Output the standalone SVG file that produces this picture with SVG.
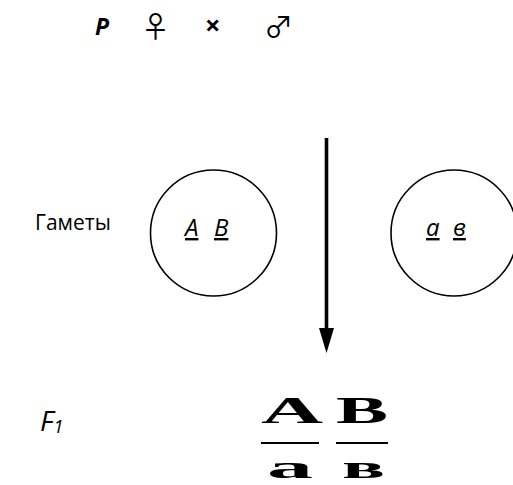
<svg xmlns="http://www.w3.org/2000/svg" width="513" height="485" viewBox="0 0 513 485">
<style>
.t{font-family:"Open Sans","Liberation Sans",sans-serif;fill:#000}
.c{fill:none;stroke:#000;stroke-width:1.6}
.g{font-family:"Open Sans","Liberation Sans",sans-serif;font-style:italic;font-size:24px;text-decoration:underline}
.f{font-family:"Liberation Serif","DejaVu Serif",serif;font-weight:bold;fill:#000}
.sym{font-family:"Noto Sans CJK JP","DejaVu Sans",sans-serif;fill:#000}
</style>
<rect width="513" height="485" fill="#fff"/>
<g id="parents">
<text class="t" x="95" y="35" font-size="23" font-weight="bold" font-style="italic">P</text>
<text class="sym" x="141" y="38" font-size="29">♀</text>
<text class="t" x="205" y="35" font-size="27" font-weight="bold">×</text>
<text class="sym" x="264" y="38" font-size="29">♂</text>
</g>
<g id="label-gametes"><text class="t" x="35" y="230" font-size="21">Гаметы</text></g>
<g id="gamete1">
<circle class="c" cx="213.5" cy="233" r="63"/>
<text class="g" x="185" y="236">A</text>
<text class="g" x="214" y="236">B</text>
</g>
<g id="gamete2">
<circle class="c" cx="454" cy="233" r="63"/>
<text class="g" x="426" y="236">a</text>
<text class="g" x="453" y="236">в</text>
</g>
<g id="connectors">
<line x1="326.5" y1="138" x2="326.5" y2="330" stroke="#000" stroke-width="3.6"/>
<polygon points="319,328 334,328 326.5,353" fill="#000"/>
</g>
<g id="label-f1"><text class="t" x="40" y="431" font-size="28" font-style="italic">F<tspan font-size="18" dy="2">1</tspan></text></g>
<g id="f1">
<text class="f" x="261" y="423" font-size="37" textLength="62" lengthAdjust="spacingAndGlyphs">A</text>
<text class="f" x="336" y="423" font-size="37" textLength="52" lengthAdjust="spacingAndGlyphs">B</text>
<line x1="261" y1="443" x2="319" y2="443" stroke="#000" stroke-width="2"/>
<line x1="336" y1="443" x2="388" y2="443" stroke="#000" stroke-width="2"/>
<text class="f" x="267" y="478" font-size="32" textLength="46" lengthAdjust="spacingAndGlyphs">a</text>
<text class="f" x="342" y="478" font-size="32" textLength="43" lengthAdjust="spacingAndGlyphs">в</text>
</g>
</svg>
